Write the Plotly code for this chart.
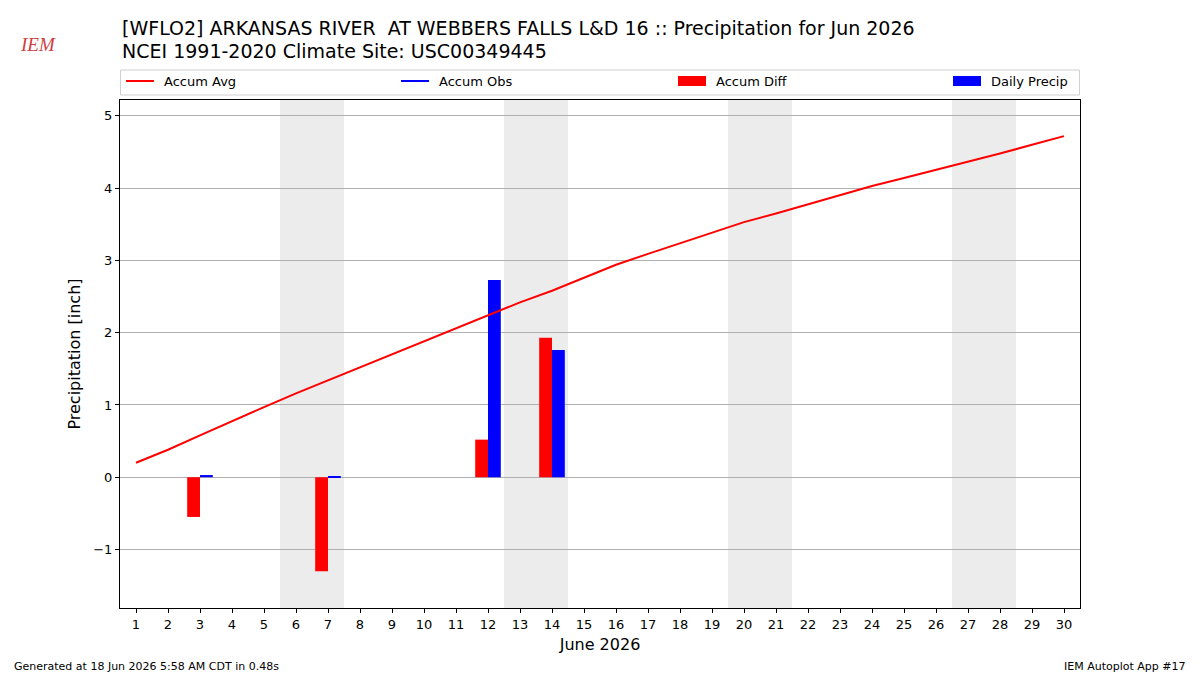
import plotly.graph_objects as go

days = list(range(1, 31))
accum_avg = [0.20, 0.38, 0.58, 0.78, 0.97, 1.16, 1.34, 1.52, 1.70, 1.88,
             2.06, 2.24, 2.42, 2.58, 2.76, 2.94, 3.09, 3.24, 3.39, 3.53,
             3.65, 3.78, 3.91, 4.03, 4.14, 4.25, 4.36, 4.48, 4.60, 4.72]
precip_days = [3, 7, 12, 14]
daily_precip = [0.03, 0.01, 2.73, 1.76]
accum_diff = [-0.55, -1.30, 0.52, 1.93]
weekend_starts = [6, 13, 20, 27]
legend_names = ["Accum Avg", "Accum Obs", "Accum Diff", "Daily Precip"]
legend_colors = ["red", "blue", "red", "blue"]
legend_kinds = ["line", "line", "bar", "bar"]

FONT = "DejaVu Sans"
L, R, T, B = 120, 120, 100, 67
W, H = 1200, 675
PW, PH = W - L - R, H - T - B


def px_x(px):
    return (px - L) / PW


def px_y(py):
    return (H - B - py) / PH


fig = go.Figure()

fig.add_trace(go.Scatter(x=days, y=accum_avg, mode="lines", name="Accum Avg",
                         line=dict(color="red", width=2), showlegend=False))
fig.add_trace(go.Scatter(x=[None], y=[None], mode="lines", name="Accum Obs",
                         line=dict(color="blue", width=2), showlegend=False))
fig.add_trace(go.Bar(x=precip_days, y=accum_diff, name="Accum Diff",
                     marker=dict(color="red", line=dict(width=0)),
                     width=0.4, offset=-0.4, showlegend=False))
fig.add_trace(go.Bar(x=precip_days, y=daily_precip, name="Daily Precip",
                     marker=dict(color="blue", line=dict(width=0)),
                     width=0.4, offset=0.0, showlegend=False))

for d in weekend_starts:
    fig.add_vrect(x0=d - 0.5, x1=d + 1.5, fillcolor="#ececec", opacity=1,
                  line_width=0, layer="below")

fig.update_layout(
    width=W, height=H,
    margin=dict(l=L, r=R, t=T, b=B),
    paper_bgcolor="white", plot_bgcolor="white",
    font=dict(family=FONT, size=13, color="black"),
    barmode="overlay",
    showlegend=False,
    xaxis=dict(range=[0.5, 30.5], tickmode="array", tickvals=days,
               ticktext=[str(d) for d in days], showgrid=False,
               ticks="outside", ticklen=4, tickcolor="black",
               showline=True, linecolor="black", linewidth=1, mirror=True,
               zeroline=False,
               title=dict(text="June 2026", font=dict(size=16, family=FONT), standoff=8),
               tickfont=dict(size=13)),
    yaxis=dict(range=[-1.81, 5.22], tickmode="array",
               tickvals=[-1, 0, 1, 2, 3, 4, 5],
               ticktext=["\u22121", "0", "1", "2", "3", "4", "5"],
               showgrid=True, gridcolor="#b0b0b0", gridwidth=1,
               ticks="outside", ticklen=4, tickcolor="black",
               showline=True, linecolor="black", linewidth=1, mirror=True,
               zeroline=False,
               title=dict(text="Precipitation [inch]", font=dict(size=16, family=FONT), standoff=8),
               tickfont=dict(size=13)),
)

# legend box (manual, matplotlib-style expanded legend)
fig.add_shape(type="rect", xref="paper", yref="paper",
              x0=px_x(120.5), x1=px_x(1079.5), y0=px_y(95), y1=px_y(70),
              line=dict(color="#d0d0d0", width=1), fillcolor="white")
legend_x = [126, 401, 678, 953]
for name, color, kind, lx in zip(legend_names, legend_colors, legend_kinds, legend_x):
    if kind == "line":
        fig.add_shape(type="line", xref="paper", yref="paper",
                      x0=px_x(lx), x1=px_x(lx + 28), y0=px_y(81), y1=px_y(81),
                      line=dict(color=color, width=2))
    else:
        fig.add_shape(type="rect", xref="paper", yref="paper",
                      x0=px_x(lx), x1=px_x(lx + 28), y0=px_y(86), y1=px_y(76),
                      line=dict(width=0), fillcolor=color)
    fig.add_annotation(text=name, xref="paper", yref="paper",
                       x=px_x(lx + 36), y=px_y(81), xanchor="left", yanchor="middle",
                       showarrow=False, font=dict(size=13, family=FONT))

fig.add_annotation(text="[WFLO2] ARKANSAS RIVER  AT WEBBERS FALLS L&D 16 :: Precipitation for Jun 2026",
                   xref="paper", yref="paper", x=0, y=px_y(28), xanchor="left", yanchor="middle",
                   showarrow=False, font=dict(size=19, family=FONT))
fig.add_annotation(text="NCEI 1991-2020 Climate Site: USC00349445",
                   xref="paper", yref="paper", x=0, y=px_y(51), xanchor="left", yanchor="middle",
                   showarrow=False, font=dict(size=19, family=FONT))
fig.add_annotation(text="Generated at 18 Jun 2026 5:58 AM CDT in 0.48s",
                   xref="paper", yref="paper", x=px_x(12), y=px_y(666), xanchor="left", yanchor="middle",
                   showarrow=False, font=dict(size=11, family=FONT))
fig.add_annotation(text="IEM Autoplot App #17",
                   xref="paper", yref="paper", x=px_x(1188), y=px_y(666), xanchor="right", yanchor="middle",
                   showarrow=False, font=dict(size=11, family=FONT))
fig.add_annotation(text="<i>IEM</i>",
                   xref="paper", yref="paper", x=px_x(38), y=px_y(45), xanchor="center", yanchor="middle",
                   showarrow=False,
                   font=dict(size=19, family="Liberation Serif", color="#d04040"))

fig.write_html("out.html")
